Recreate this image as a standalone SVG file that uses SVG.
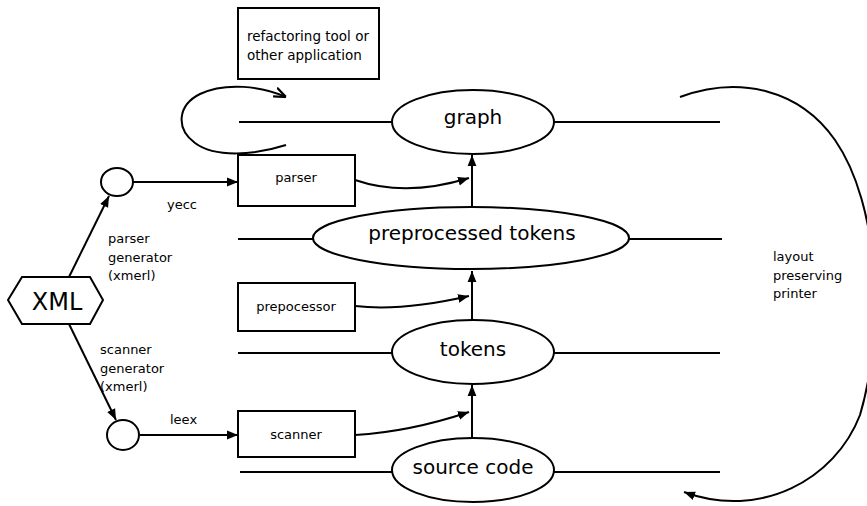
<svg xmlns="http://www.w3.org/2000/svg" width="867" height="506" viewBox="0 0 867 506">
<style>
.s{fill:none;stroke:#000;stroke-width:2}
.n{fill:#fff;stroke:#000;stroke-width:2}
.t{font-family:"DejaVu Sans","Liberation Sans",sans-serif;fill:#000}
.sm{font-size:13px}
.bg{font-size:20px}
</style>
<defs>
<marker id="ah" viewBox="0 0 10 10" refX="10" refY="5" markerWidth="11" markerHeight="11" markerUnits="userSpaceOnUse" orient="auto">
<path d="M0,1 L10,5 L0,9 Z" fill="#000"/>
</marker>
<marker id="oa" viewBox="0 0 10 10" refX="10" refY="5" markerWidth="12" markerHeight="12" markerUnits="userSpaceOnUse" orient="auto">
<path d="M0,1 L10,5 L0,9" fill="none" stroke="#000" stroke-width="1.8"/>
</marker>
</defs>
<rect width="867" height="506" fill="#fff"/>
<g id="connectors">
<line class="s" x1="239" y1="122" x2="392" y2="122"/>
<line class="s" x1="554" y1="122" x2="720" y2="122"/>
<line class="s" x1="238" y1="239" x2="314" y2="239"/>
<line class="s" x1="629" y1="239" x2="722" y2="239"/>
<line class="s" x1="238" y1="353" x2="392" y2="353"/>
<line class="s" x1="554" y1="353" x2="720" y2="353"/>
<line class="s" x1="240" y1="472" x2="392" y2="472"/>
<line class="s" x1="554" y1="472" x2="720" y2="472"/>
<line class="s" x1="472" y1="438" x2="472" y2="385" marker-end="url(#ah)"/>
<line class="s" x1="472" y1="320" x2="472" y2="271" marker-end="url(#ah)"/>
<line class="s" x1="472" y1="207" x2="472" y2="155" marker-end="url(#ah)"/>
<path class="s" d="M355,180 C390,192 430,190 469,178" marker-end="url(#ah)"/>
<path class="s" d="M355,306 C390,310 430,305 469,296" marker-end="url(#ah)"/>
<path class="s" d="M355,435 C390,433 430,425 469,412" marker-end="url(#ah)"/>
<line class="s" x1="133" y1="182" x2="238" y2="182" marker-end="url(#ah)"/>
<line class="s" x1="140" y1="435" x2="238" y2="435" marker-end="url(#ah)"/>
<line class="s" x1="69" y1="277" x2="109" y2="196" marker-end="url(#ah)"/>
<line class="s" x1="69" y1="324" x2="116" y2="420" marker-end="url(#ah)"/>
<path class="s" d="M286,145 C255,155 215,158 195,143 C175,128 178,105 200,94 C225,82 262,86 286,97" marker-end="url(#oa)"/>
<path class="s" d="M680,97 C740,75 800,90 835,140 C880,205 885,330 860,415 C835,480 760,520 684,492" marker-end="url(#ah)"/>
</g>
<g id="refactoring">
<rect class="n" x="238" y="8" width="141" height="71"/>
<text class="t" style="font-size:13.5px" x="247" y="41">refactoring tool or</text>
<text class="t" style="font-size:13.5px" x="247" y="60">other application</text>
</g>
<g id="graph">
<ellipse class="n" cx="473" cy="122" rx="81" ry="32"/>
<text class="t bg" x="473" y="124" text-anchor="middle">graph</text>
</g>
<g id="parser">
<rect class="n" x="238" y="155" width="117" height="51"/>
<text class="t sm" x="296" y="182" text-anchor="middle">parser</text>
</g>
<g id="preprocessed-tokens">
<ellipse class="n" cx="471" cy="238" rx="158" ry="31"/>
<text class="t bg" x="472" y="240" text-anchor="middle">preprocessed tokens</text>
</g>
<g id="prepocessor">
<rect class="n" x="238" y="283" width="117" height="48"/>
<text class="t sm" x="296" y="311" text-anchor="middle">prepocessor</text>
</g>
<g id="tokens">
<ellipse class="n" cx="473" cy="352" rx="81" ry="32"/>
<text class="t bg" x="473" y="356" text-anchor="middle">tokens</text>
</g>
<g id="scanner">
<rect class="n" x="238" y="411" width="117" height="46"/>
<text class="t sm" x="296" y="439" text-anchor="middle">scanner</text>
</g>
<g id="source-code">
<ellipse class="n" cx="473" cy="470" rx="81" ry="32"/>
<text class="t bg" x="473" y="474" text-anchor="middle">source code</text>
</g>
<g id="xml">
<polygon class="n" points="8,300 22,277 90,277 103,300 90,324 22,324"/>
<text class="t" style="font-size:24px" x="57" y="310" text-anchor="middle">XML</text>
</g>
<g id="gen-parser">
<ellipse class="n" cx="117" cy="182" rx="16" ry="14"/>
</g>
<g id="gen-scanner">
<ellipse class="n" cx="123" cy="435" rx="16" ry="15"/>
</g>
<g id="labels">
<text class="t sm" x="167" y="209">yecc</text>
<text class="t sm" x="108" y="243">parser</text>
<text class="t sm" x="108" y="262">generator</text>
<text class="t sm" x="108" y="280">(xmerl)</text>
<text class="t sm" x="100" y="354">scanner</text>
<text class="t sm" x="100" y="373">generator</text>
<text class="t sm" x="100" y="391">(xmerl)</text>
<text class="t sm" x="170" y="424">leex</text>
<text class="t sm" x="773" y="261">layout</text>
<text class="t sm" x="773" y="280">preserving</text>
<text class="t sm" x="773" y="298">printer</text>
</g>
</svg>
